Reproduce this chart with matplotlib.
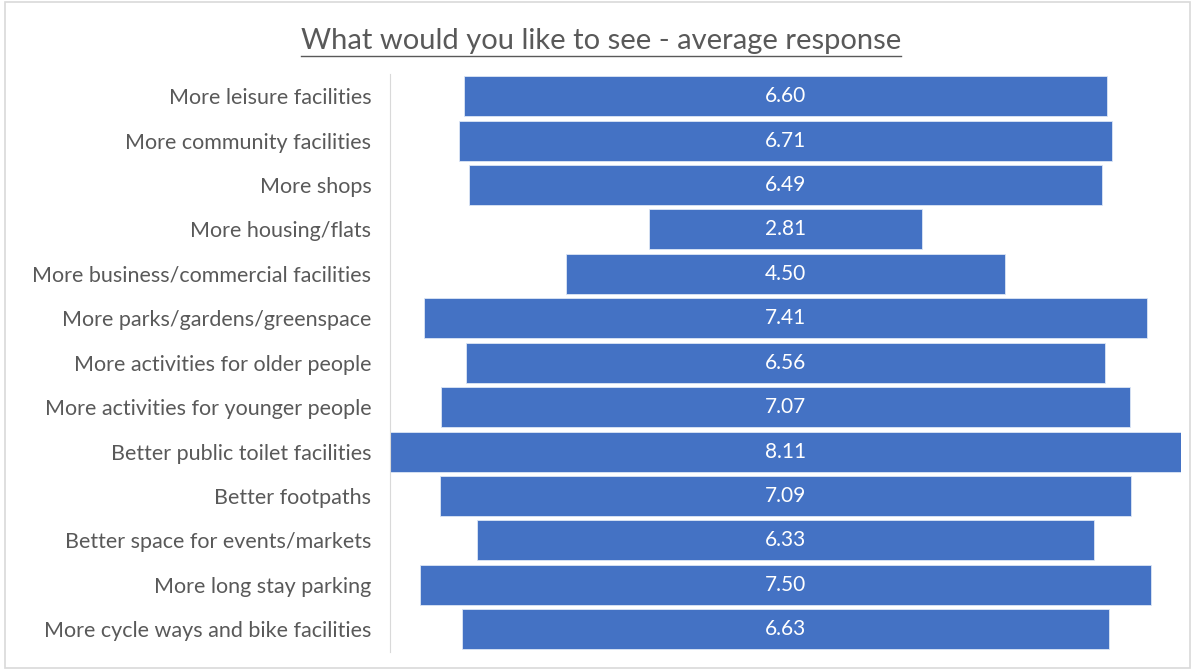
import numpy as np
import matplotlib
matplotlib.use("Agg")
import matplotlib.pyplot as plt
from matplotlib.patches import Rectangle

categories = [
    "More leisure facilities",
    "More community facilities",
    "More shops",
    "More housing/flats",
    "More business/commercial facilities",
    "More parks/gardens/greenspace",
    "More activities for older people",
    "More activities for younger people",
    "Better public toilet facilities",
    "Better footpaths",
    "Better space for events/markets",
    "More long stay parking",
    "More cycle ways and bike facilities",
]
values = [6.60, 6.71, 6.49, 2.81, 4.50, 7.41, 6.56, 7.07, 8.11, 7.09, 6.33, 7.50, 6.63]
title = "What would you like to see - average response"

W, H = 1193, 670
BLUE = "#4472C4"
GREY = "#595959"
plt.rcParams["font.family"] = ["Lato", "DejaVu Sans"]

fig = plt.figure(figsize=(W / 100, H / 100), dpi=100)
fig.patches.append(Rectangle((5 / W, 2 / H), 1185 / W, 666 / H, transform=fig.transFigure,
                             fill=False, edgecolor="#d9d9d9", linewidth=1.2))

ax = fig.add_axes([390 / W, 1 - 651.5 / H, 791 / W, 577.5 / H])
y = np.arange(len(values))
vals = np.array(values)
ax.barh(y, vals, left=-vals / 2, height=0.9, color=BLUE, edgecolor="#dce6f5", linewidth=0.6)
for yi, v in zip(y, vals):
    ax.text(0, yi, f"{v:.2f}", ha="center", va="center", color="white", fontsize=15)

half = vals.max() / 2 + 0.003
ax.set_xlim(-half, half)
ax.set_ylim(len(values) - 0.5, -0.5)
ax.set_yticks(y)
ax.set_yticklabels(categories, fontsize=15.5, color=GREY)
ax.tick_params(axis="y", length=0, pad=13.5)
ax.set_xticks([])
for s in ["top", "right", "bottom"]:
    ax.spines[s].set_visible(False)
ax.spines["left"].set_color("#d9d9d9")

t = fig.text(601 / W, 1 - 41 / H, title, ha="center", va="center", fontsize=21, color=GREY)
fig.canvas.draw()
bb = t.get_window_extent()
fig.add_artist(plt.Line2D([bb.x0 / W, bb.x1 / W], [1 - 56 / H] * 2, transform=fig.transFigure,
                          color=GREY, linewidth=1.0))

fig.savefig("out.png", dpi=100)
